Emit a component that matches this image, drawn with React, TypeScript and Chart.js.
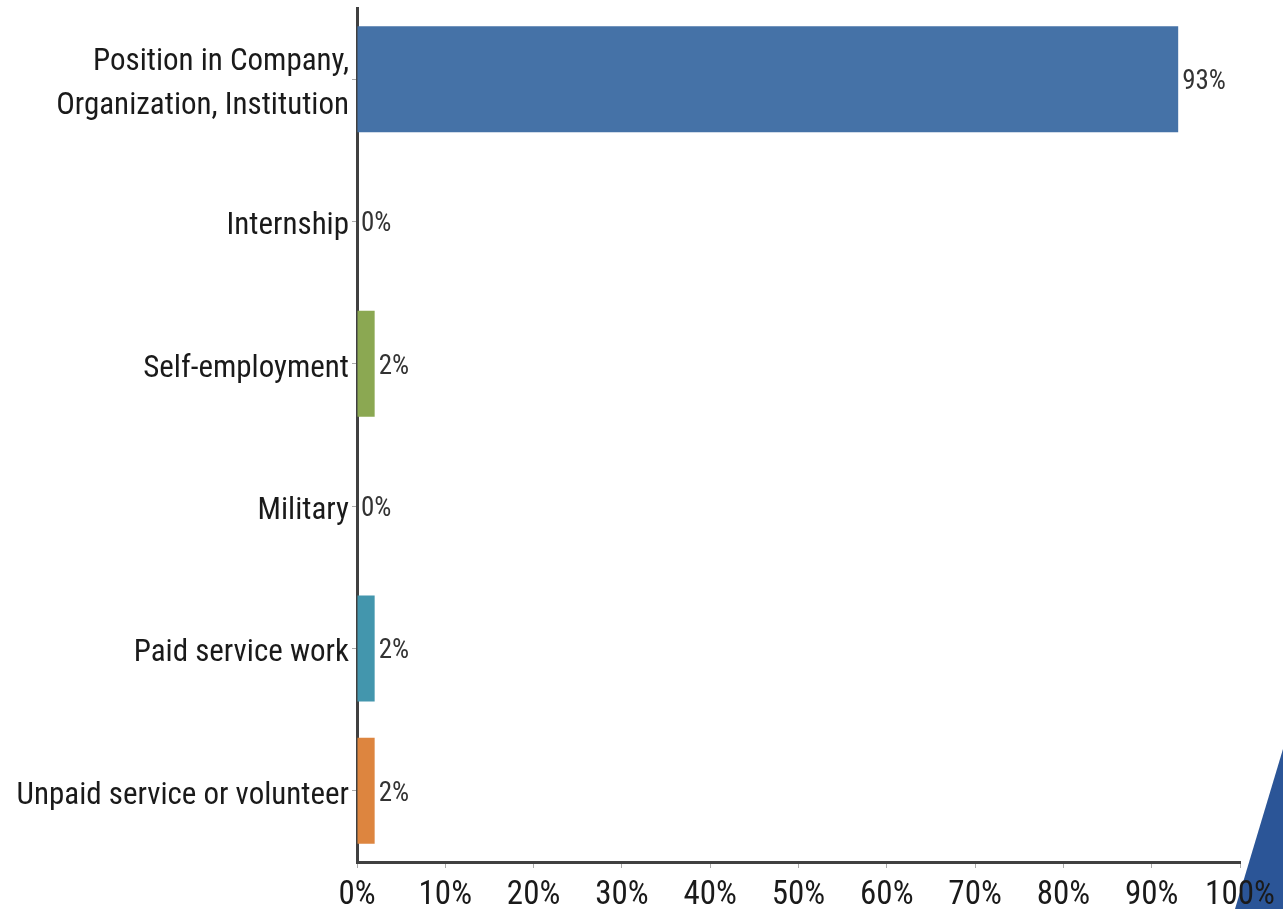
import React, { useEffect, useRef } from "react";
import { Chart, registerables } from "chart.js";

Chart.register(...registerables);

const categories: (string | string[])[] = [
  ["Position in Company,", "Organization, Institution"],
  "Internship",
  "Self-employment",
  "Military",
  "Paid service work",
  "Unpaid service or volunteer",
];
const values = [93, 0, 2, 0, 2, 2];
const barColors = ["#4572a7", "#b54a47", "#8ba852", "#775f9a", "#4396ad", "#dd853f"];
const xTicks = [0, 10, 20, 30, 40, 50, 60, 70, 80, 90, 100];

const FONT = "'Liberation Sans Narrow', 'Arial Narrow', 'Roboto Condensed', Arial, sans-serif";

const dataLabelPlugin = {
  id: "dataLabels",
  afterDatasetsDraw(chart: any) {
    const ctx = chart.ctx;
    const meta = chart.getDatasetMeta(0);
    ctx.save();
    ctx.font = `27px ${FONT}`;
    ctx.fillStyle = "#333333";
    ctx.textAlign = "left";
    ctx.textBaseline = "middle";
    meta.data.forEach((el: any, i: number) => {
      ctx.fillText(`${values[i]}%`, el.x + 4, el.y + 3);
    });
    ctx.restore();
  },
};

const cornerPlugin = {
  id: "corner",
  beforeDraw(chart: any) {
    const ctx = chart.ctx;
    const w = chart.width;
    const h = chart.height;
    ctx.save();
    ctx.fillStyle = "#2b5597";
    ctx.beginPath();
    ctx.moveTo(w - 48, h);
    ctx.lineTo(w, h - 160);
    ctx.lineTo(w, h);
    ctx.closePath();
    ctx.fill();
    ctx.restore();
  },
};

export default function App() {
  const ref = useRef<HTMLCanvasElement>(null);
  useEffect(() => {
    document.body.style.margin = "0";
    const chart = new Chart(ref.current!, {
      type: "bar",
      data: {
        labels: categories,
        datasets: [
          {
            data: values,
            backgroundColor: barColors,
            borderWidth: 0,
            barPercentage: 0.745,
            categoryPercentage: 1,
          },
        ],
      },
      options: {
        indexAxis: "y",
        animation: false,
        responsive: false,
        maintainAspectRatio: false,
        layout: { padding: { top: 8, right: 43, left: 0, bottom: 0 } },
        plugins: { legend: { display: false }, tooltip: { enabled: false } },
        scales: {
          x: {
            min: 0,
            max: 100,
            afterBuildTicks: (s: any) => {
              s.ticks = xTicks.map((v) => ({ value: v }));
            },
            afterFit: (s: any) => {
              s.height = 47;
              s.paddingLeft = 0;
              s.paddingRight = 0;
            },
            grid: { drawOnChartArea: false, drawTicks: true, tickLength: 6, color: "#aaaaaa" },
            border: { display: true, color: "#404040", width: 3 },
            ticks: {
              padding: 8,
              color: "#1a1a1a",
              font: { family: FONT, size: 33 },
              maxRotation: 0,
              autoSkip: false,
              callback: (v: any) => `${v}%`,
            },
          },
          y: {
            afterFit: (s: any) => {
              s.width = 357;
              s.paddingTop = 0;
              s.paddingBottom = 0;
            },
            grid: { drawOnChartArea: false, drawTicks: true, tickLength: 5, color: "#aaaaaa", offset: false },
            border: { display: true, color: "#404040", width: 3 },
            ticks: {
              padding: 3,
              labelOffset: 5,
              color: "#1a1a1a",
              font: { family: FONT, size: 31, lineHeight: 1.4 },
              autoSkip: false,
            },
          },
        },
      },
      plugins: [dataLabelPlugin, cornerPlugin],
    });
    return () => chart.destroy();
  }, []);
  return (
    <div style={{ position: "fixed", left: 0, top: 0, width: 1283, height: 909, background: "#fff" }}>
      <canvas ref={ref} width={1283} height={909} style={{ display: "block" }} />
    </div>
  );
}
